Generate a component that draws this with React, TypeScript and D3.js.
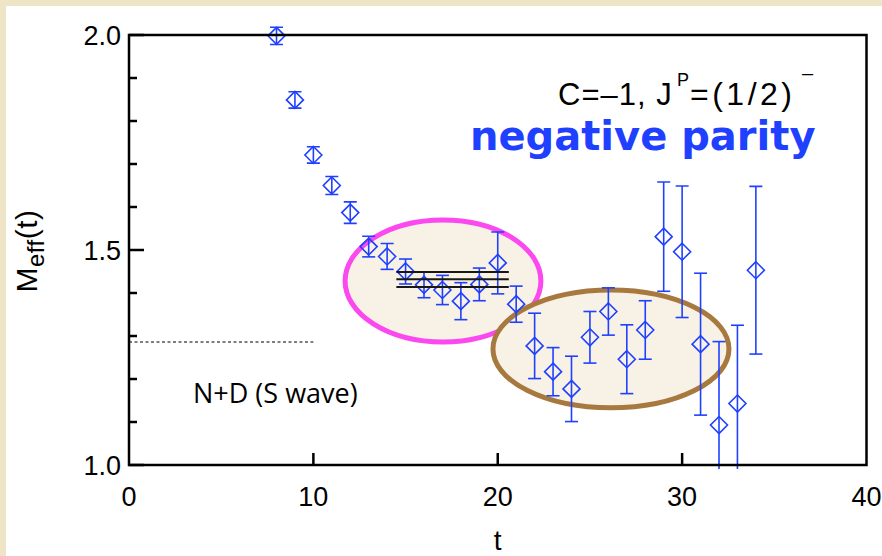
import React, { useEffect, useRef } from 'react';
import * as d3 from 'd3';

// effective mass data, negative parity channel
const tValues = [8, 9, 10, 11, 12, 13, 14, 15, 16, 17, 18, 19, 20, 21, 22, 23, 24, 25, 26, 27, 28, 29, 30, 31, 32, 33, 34];
const meffValues = [1.998, 1.849, 1.721, 1.65, 1.587, 1.508, 1.485, 1.45, 1.419, 1.407, 1.381, 1.42, 1.47, 1.374, 1.277, 1.217, 1.177, 1.297, 1.357, 1.246, 1.314, 1.531, 1.496, 1.281, 1.093, 1.143, 1.453];
const meffErrors = [0.02, 0.019, 0.019, 0.021, 0.025, 0.024, 0.03, 0.029, 0.03, 0.034, 0.043, 0.038, 0.072, 0.042, 0.076, 0.056, 0.076, 0.06, 0.055, 0.08, 0.068, 0.127, 0.153, 0.165, 0.194, 0.182, 0.195];

// fit result band (central value and +/- error)
const fitLevels = [1.449, 1.432, 1.414];
const fitRange = [14.5, 20.6];

// N+D threshold
const thresholdValue = 1.286;
const thresholdRange = [0, 10];

const xTicks = [0, 10, 20, 30, 40];
const yMajorTicks = [1.0, 1.5, 2.0];
const yMinorTicks = [1.1, 1.2, 1.3, 1.4, 1.6, 1.7, 1.8, 1.9];

const App = () => {
  const svgRef = useRef<SVGSVGElement>(null);

  useEffect(() => {
    const svg = d3.select(svgRef.current);
    svg.selectAll('*').remove();

    const width = 882;
    const height = 556;
    const left = 129;
    const right = 866.5;
    const top = 35;
    const bottom = 465;
    const blue = '#1f40ff';

    const x = d3.scaleLinear().domain([0, 40]).range([left, right]);
    const y = d3.scaleLinear().domain([1, 2]).range([bottom, top]);

    // beige frame and white panel
    svg.append('rect').attr('width', width).attr('height', height).attr('fill', '#eee4c6');
    svg.append('rect').attr('x', 6).attr('y', 6).attr('width', width - 6).attr('height', height - 6).attr('fill', '#ffffff');

    svg
      .append('defs')
      .append('clipPath')
      .attr('id', 'plotClip')
      .append('rect')
      .attr('x', left - 20)
      .attr('y', 20)
      .attr('width', right - left + 40)
      .attr('height', bottom + 4 - 20);

    // highlight ellipses
    const ellipses = [
      { t: 17.03, v: 1.428, rt: 5.31, rv: 0.142, stroke: '#fb48ef' },
      { t: 26.14, v: 1.27, rt: 6.4, rv: 0.137, stroke: '#a8793f' }
    ];
    ellipses.forEach(e => {
      svg
        .append('ellipse')
        .attr('cx', x(e.t))
        .attr('cy', y(e.v))
        .attr('rx', x(e.rt) - x(0))
        .attr('ry', y(1) - y(1 + e.rv))
        .attr('fill', '#f8f1e6')
        .attr('stroke', e.stroke)
        .attr('stroke-width', 5);
    });

    // threshold line
    svg
      .append('line')
      .attr('x1', x(thresholdRange[0]))
      .attr('x2', x(thresholdRange[1]))
      .attr('y1', y(thresholdValue))
      .attr('y2', y(thresholdValue))
      .attr('stroke', '#000')
      .attr('stroke-width', 1.2)
      .attr('stroke-dasharray', '3,2.5');

    svg
      .append('text')
      .attr('x', 193)
      .attr('y', 403)
      .attr('font-family', '"Open Sans", sans-serif')
      .attr('font-size', 27)
      .text('N+D (S wave)');

    // data points
    const data = tValues.map((t, i) => ({ t, m: meffValues[i], e: meffErrors[i] }));
    const pts = svg.append('g').attr('clip-path', 'url(#plotClip)');
    const d = 8.5;
    const cap = 6.5;
    data.forEach(p => {
      const cx = x(p.t);
      const cy = y(p.m);
      const y1 = y(p.m + p.e);
      const y2 = y(p.m - p.e);
      const g = pts.append('g').attr('stroke', blue).attr('stroke-width', 1.6).attr('fill', 'none');
      g.append('line').attr('x1', cx).attr('x2', cx).attr('y1', y1).attr('y2', y2);
      g.append('line').attr('x1', cx - cap).attr('x2', cx + cap).attr('y1', y1).attr('y2', y1);
      g.append('line').attr('x1', cx - cap).attr('x2', cx + cap).attr('y1', y2).attr('y2', y2);
      g.append('path').attr('d', `M${cx},${cy - d}L${cx + d},${cy}L${cx},${cy + d}L${cx - d},${cy}Z`);
    });

    // fit band
    fitLevels.forEach(v => {
      svg
        .append('line')
        .attr('x1', x(fitRange[0]))
        .attr('x2', x(fitRange[1]))
        .attr('y1', y(v))
        .attr('y2', y(v))
        .attr('stroke', '#1a1712')
        .attr('stroke-width', 2);
    });

    // frame and ticks
    svg
      .append('rect')
      .attr('x', left)
      .attr('y', top)
      .attr('width', right - left)
      .attr('height', bottom - top)
      .attr('fill', 'none')
      .attr('stroke', '#000')
      .attr('stroke-width', 2.5);

    const axes = svg.append('g').attr('stroke', '#000').attr('stroke-width', 2.5);
    xTicks.slice(1, -1).forEach(t => {
      axes.append('line').attr('x1', x(t)).attr('x2', x(t)).attr('y1', bottom).attr('y2', bottom - 12);
    });
    yMajorTicks.forEach(v => {
      axes.append('line').attr('x1', left).attr('x2', left + 15).attr('y1', y(v)).attr('y2', y(v));
    });
    yMinorTicks.forEach(v => {
      axes.append('line').attr('x1', left).attr('x2', left + 8).attr('y1', y(v)).attr('y2', y(v));
    });

    const labelFont = '"Liberation Sans", Arial, sans-serif';
    svg
      .append('g')
      .selectAll('text')
      .data(xTicks)
      .enter()
      .append('text')
      .attr('x', t => x(t))
      .attr('y', 506)
      .attr('text-anchor', 'middle')
      .attr('font-family', labelFont)
      .attr('font-size', 27)
      .text(t => String(t));

    svg
      .append('g')
      .selectAll('text')
      .data(yMajorTicks)
      .enter()
      .append('text')
      .attr('x', 121)
      .attr('y', v => y(v) + 9.5)
      .attr('text-anchor', 'end')
      .attr('font-family', labelFont)
      .attr('font-size', 27)
      .text(v => v.toFixed(1));

    svg
      .append('text')
      .attr('x', x(20))
      .attr('y', 550)
      .attr('text-anchor', 'middle')
      .attr('font-family', labelFont)
      .attr('font-size', 28)
      .text('t');

    const yl = svg
      .append('text')
      .attr('transform', 'translate(37,251) rotate(-90)')
      .attr('text-anchor', 'middle')
      .attr('font-family', labelFont)
      .attr('font-size', 30)
      .attr('letter-spacing', 0.5);
    yl.append('tspan').text('M');
    yl.append('tspan').attr('dy', 7).attr('font-size', 24).text('eff');
    yl.append('tspan').attr('dy', -7).text('(t)');

    // channel label
    const cl = svg
      .append('text')
      .attr('y', 105)
      .attr('font-family', labelFont)
      .attr('font-size', 31);
    cl.append('tspan').attr('x', 558).attr('letter-spacing', 1).text('C=\u20131, J');
    cl.append('tspan').attr('x', 677).attr('dy', -19).attr('font-size', 18).text('P');
    cl.append('tspan').attr('x', 690).attr('dy', 19).attr('font-size', 32).attr('letter-spacing', 3.5).text('=(1/2)');
    cl.append('tspan').attr('x', 802).attr('dy', -25).attr('font-size', 20).text('\u2013');

    svg
      .append('text')
      .attr('x', 470)
      .attr('y', 150)
      .attr('font-family', '"DejaVu Sans", sans-serif')
      .attr('font-weight', 'bold')
      .attr('font-size', 40)
      .attr('fill', blue)
      .text('negative parity');
  }, []);

  return (
    <svg
      ref={svgRef}
      width={882}
      height={556}
      style={{ position: 'absolute', left: 0, top: 0 }}
    />
  );
};

export default App;
